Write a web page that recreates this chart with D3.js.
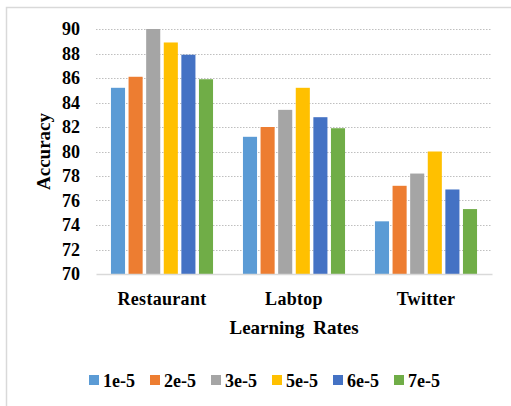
<!DOCTYPE html>
<html>
<head>
<meta charset="utf-8">
<script src="https://cdn.jsdelivr.net/npm/d3@7"></script>
</head>
<body style="margin:0;background:#fff">
<svg id="chart" width="511" height="406" style="display:block"></svg>
<script>
// Datasets on the x axis
const categories = ["Restaurant", "Labtop", "Twitter"];
// Learning rates (one bar series each)
const seriesNames = ["1e-5", "2e-5", "3e-5", "5e-5", "6e-5", "7e-5"];
const seriesColors = ["#5B9BD5", "#ED7D31", "#A5A5A5", "#FFC000", "#4472C4", "#70AD47"];
// Accuracy per learning rate, in category order
const acc1e5 = [85.2, 81.2, 74.3];
const acc2e5 = [86.1, 82.0, 77.2];
const acc3e5 = [90.0, 83.4, 78.2];
const acc5e5 = [88.9, 85.2, 80.0];
const acc6e5 = [87.9, 82.8, 76.9];
const acc7e5 = [85.9, 81.9, 75.3];
const yTicks = [70, 72, 74, 76, 78, 80, 82, 84, 86, 88, 90];

const seriesValues = [acc1e5, acc2e5, acc3e5, acc5e5, acc6e5, acc7e5];

// Bold serif label at the given pixel size
function serif(sel, px) {
  return sel
    .attr("font-family", "serif")
    .attr("font-weight", 700)
    .attr("font-size", px)
    .attr("fill", "#000");
}

const svg = d3.select("#chart");

// Outer chart frame
svg.append("rect")
  .attr("x", 6.5).attr("y", 7.5)
  .attr("width", 530).attr("height", 430)
  .attr("fill", "none")
  .attr("stroke", "#d9d9d9")
  .attr("stroke-width", 1.5);

const plot = { left: 96, right: 492, top: 29, bottom: 274 };

const x0 = d3.scaleBand()
  .domain(categories)
  .range([plot.left, plot.right])
  .paddingInner(0.2)
  .paddingOuter(0.1);

const x1 = d3.scaleBand()
  .domain(seriesNames)
  .range([0, x0.bandwidth()])
  .paddingInner(0.2)
  .paddingOuter(0.1);

const y = d3.scaleLinear()
  .domain([70, 90])
  .range([plot.bottom, plot.top]);

// Dotted horizontal gridlines
svg.append("g")
  .selectAll("line")
  .data(yTicks.filter(t => t > 70))
  .join("line")
  .attr("x1", plot.left).attr("x2", plot.right)
  .attr("y1", d => Math.round(y(d)) + 0.5)
  .attr("y2", d => Math.round(y(d)) + 0.5)
  .attr("stroke", "#bfbfbf")
  .attr("stroke-width", 1.2)
  .attr("stroke-dasharray", "1.5,1.5");

// Bars
const groups = svg.append("g")
  .selectAll("g")
  .data(categories)
  .join("g")
  .attr("transform", d => `translate(${x0(d)},0)`);

groups.selectAll("rect")
  .data((c, ci) => seriesNames.map((s, si) => ({ s, si, v: seriesValues[si][ci] })))
  .join("rect")
  .attr("x", d => x1(d.s))
  .attr("y", d => y(d.v))
  .attr("width", x1.bandwidth())
  .attr("height", d => y(70) - y(d.v))
  .attr("fill", d => seriesColors[d.si]);

// Category axis line and labels
const xAxis = svg.append("g")
  .attr("transform", `translate(0,${plot.bottom})`)
  .call(d3.axisBottom(x0).tickSize(0).tickPadding(18));
serif(xAxis, 18);
xAxis.select(".domain").attr("stroke", "#d9d9d9").attr("stroke-width", 1.5);
serif(xAxis.selectAll("text"), 18).attr("letter-spacing", 0.3);

// Value axis labels
const yAxis = svg.append("g")
  .attr("transform", `translate(${plot.left},0)`)
  .call(d3.axisLeft(y).tickValues(yTicks).tickSize(0).tickPadding(16));
serif(yAxis, 18);
yAxis.select(".domain").remove();
serif(yAxis.selectAll("text"), 18);

// Axis titles
serif(svg.append("text"), 19)
  .attr("transform", `translate(50,${(plot.top + plot.bottom) / 2}) rotate(-90)`)
  .attr("text-anchor", "middle")
  .text("Accuracy");

serif(svg.append("text"), 19)
  .attr("x", (plot.left + plot.right) / 2)
  .attr("y", 334)
  .attr("text-anchor", "middle")
  .attr("word-spacing", 4)
  .text("Learning Rates");

// Legend
const legendX = d3.scaleLinear().domain([0, 5]).range([89, 394]);
const legend = svg.append("g")
  .selectAll("g")
  .data(seriesNames)
  .join("g")
  .attr("transform", (d, i) => `translate(${legendX(i)},375)`);
legend.append("rect")
  .attr("width", 10).attr("height", 10)
  .attr("fill", (d, i) => seriesColors[i]);
serif(legend.append("text"), 18)
  .attr("x", 14).attr("y", 12)
  .text(d => d);
</script>
</body>
</html>
